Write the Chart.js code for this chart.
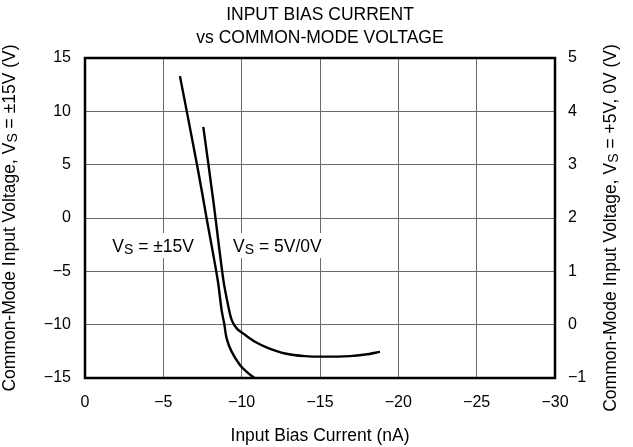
<!DOCTYPE html>
<html>
<head>
<meta charset="utf-8">
<script src="https://cdn.jsdelivr.net/npm/chart.js@4/dist/chart.umd.min.js"></script>
<style>
  body { margin: 0; background: #fff; }
  #wrap { width: 633px; height: 447px; }
</style>
</head>
<body>
<div id="wrap"><canvas id="chart" width="633" height="447"></canvas></div>
<script>
// values
const dualSupplyX = [-6.06, -7.15, -7.76, -8.47, -8.72, -8.89, -9.04, -9.36, -9.89, -10.43, -10.81];
const dualSupplyY = [13.3, 5.0, 0.0, -5.81, -8.63, -9.94, -11.28, -12.53, -13.78, -14.56, -15.0];
const singleSupplyX = [-7.55, -8.2, -8.83, -9.15, -9.36, -9.68, -10.21, -10.85, -11.70, -12.77, -14.04, -15.2, -16.9, -17.9, -18.83];
const singleSupplyY = [3.71, 2.3, 0.84, 0.34, 0.09, -0.07, -0.19, -0.32, -0.44, -0.54, -0.59, -0.60, -0.59, -0.56, -0.51];

const xTicks = [0, -5, -10, -15, -20, -25, -30];
const leftTicks = [-15, -10, -5, 0, 5, 10, 15];
const rightTicks = [-1, 0, 1, 2, 3, 4, 5];

const titleLines = ["INPUT BIAS CURRENT", "vs COMMON-MODE VOLTAGE"];
const xTitle = "Input Bias Current (nA)";
const leftTitle = [["Common-Mode Input Voltage, V"], ["S", true], [" = ±15V (V)"]];
const rightTitle = [["Common-Mode Input Voltage, V"], ["S", true], [" = +5V, 0V (V)"]];
const curveLabels = [
  { parts: [["V"], ["S", true], [" = ±15V"]], x: -1.74, y: -3.2 },
  { parts: [["V"], ["S", true], [" = 5V/0V"]], x: -9.45, y: -3.2 }
];

const FONT = "Arial, 'Liberation Sans', sans-serif";

function toPoints(xs, ys) {
  return xs.map((x, i) => ({ x: x, y: ys[i] }));
}

function fmt(v) {
  return v < 0 ? "\u2212" + Math.abs(v) : String(v);
}

function richWidth(ctx, parts, size) {
  let w = 0;
  parts.forEach(p => {
    ctx.font = (p[1] ? size * 0.8 : size) + "px " + FONT;
    w += ctx.measureText(p[0]).width;
  });
  return w;
}

function drawRich(ctx, parts, x, y, size) {
  let cx = x;
  parts.forEach(p => {
    const s = p[1] ? size * 0.8 : size;
    ctx.font = s + "px " + FONT;
    ctx.fillText(p[0], cx, p[1] ? y + size * 0.12 : y);
    cx += ctx.measureText(p[0]).width;
  });
}

const decor = {
  id: "decor",
  afterDraw(chart) {
    const ctx = chart.ctx;
    const a = chart.chartArea;
    const sx = chart.scales.x, sy = chart.scales.y;
    ctx.save();
    ctx.fillStyle = "#000";
    ctx.textAlign = "left";
    ctx.textBaseline = "alphabetic";

    // curve labels on white boxes
    curveLabels.forEach(l => {
      const px = sx.getPixelForValue(l.x);
      const py = sy.getPixelForValue(l.y);
      const w = richWidth(ctx, l.parts, 17.5);
      ctx.fillStyle = "#fff";
      ctx.fillRect(px - 3, py - 19, w + 6, 25);
      ctx.fillStyle = "#000";
      drawRich(ctx, l.parts, px, py, 17.5);
    });

    // frame
    ctx.strokeStyle = "#000";
    ctx.lineWidth = 2.5;
    ctx.strokeRect(a.left, a.top, a.right - a.left, a.bottom - a.top);

    // title
    ctx.font = "17.5px " + FONT;
    ctx.textAlign = "center";
    const mid = (a.left + a.right) / 2;
    ctx.fillText(titleLines[0], mid, 20);
    ctx.fillText(titleLines[1], mid, 43);
    ctx.fillText(xTitle, mid, 441);

    // rotated axis titles
    ctx.textAlign = "left";
    const cy = (a.top + a.bottom) / 2;
    ctx.save();
    ctx.translate(15, cy);
    ctx.rotate(-Math.PI / 2);
    drawRich(ctx, leftTitle, -richWidth(ctx, leftTitle, 17.5) / 2, 0, 17.5);
    ctx.restore();
    ctx.save();
    ctx.translate(616, cy + 10);
    ctx.rotate(-Math.PI / 2);
    drawRich(ctx, rightTitle, -richWidth(ctx, rightTitle, 17.5) / 2, 0, 17.5);
    ctx.restore();
    ctx.restore();
  }
};

const tickFont = { family: FONT, size: 16 };

new Chart(document.getElementById("chart"), {
  type: "scatter",
  data: {
    datasets: [
      {
        label: "VS = ±15V",
        data: toPoints(dualSupplyX, dualSupplyY),
        yAxisID: "y",
        showLine: true,
        borderColor: "#000",
        borderWidth: 2.4,
        pointRadius: 0,
        tension: 0.3
      },
      {
        label: "VS = 5V/0V",
        data: toPoints(singleSupplyX, singleSupplyY),
        yAxisID: "y2",
        showLine: true,
        borderColor: "#000",
        borderWidth: 2.4,
        pointRadius: 0,
        tension: 0.3
      }
    ]
  },
  options: {
    responsive: false,
    animation: false,
    layout: { padding: { top: 58, left: 0, right: 0, bottom: 0 } },
    plugins: { legend: { display: false }, title: { display: false }, tooltip: { enabled: false } },
    scales: {
      x: {
        type: "linear",
        min: -30,
        max: 0,
        reverse: true,
        afterBuildTicks: s => { s.ticks = xTicks.map(v => ({ value: v })); },
        afterFit: s => { s.height = 69; },
        ticks: { color: "#000", font: tickFont, padding: 15, maxRotation: 0, callback: fmt },
        grid: { color: "#6a6a6a", lineWidth: 1, drawTicks: false },
        border: { display: false }
      },
      y: {
        position: "left",
        min: -15,
        max: 15,
        afterBuildTicks: s => { s.ticks = leftTicks.map(v => ({ value: v })); },
        afterFit: s => { s.width = 85; },
        ticks: { color: "#000", font: tickFont, padding: 14, callback: fmt },
        grid: { color: "#6a6a6a", lineWidth: 1, drawTicks: false },
        border: { display: false }
      },
      y2: {
        position: "right",
        min: -1,
        max: 5,
        afterBuildTicks: s => { s.ticks = rightTicks.map(v => ({ value: v })); },
        afterFit: s => { s.width = 78; },
        ticks: { color: "#000", font: tickFont, padding: 13, callback: fmt },
        grid: { display: false, drawTicks: false },
        border: { display: false }
      }
    }
  },
  plugins: [decor]
});
</script>
</body>
</html>
